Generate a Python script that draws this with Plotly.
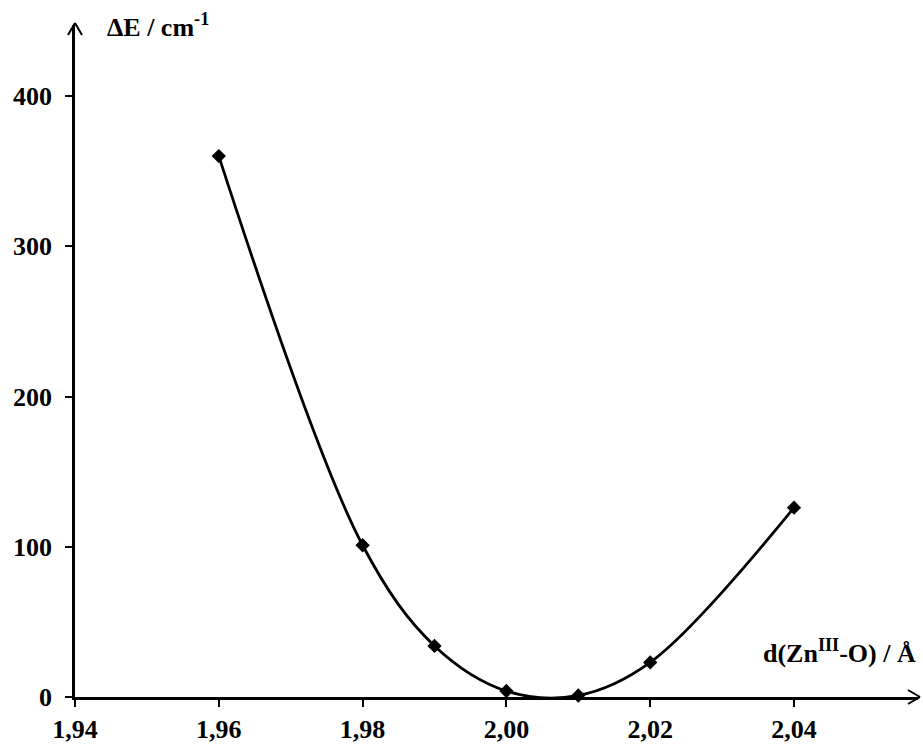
import plotly.graph_objects as go

# data
d_zn_o = [1.96, 1.98, 1.99, 2.00, 2.01, 2.02, 2.04]
delta_e = [360, 101, 34, 4, 1, 23, 126]

x_tickvals = [1.94, 1.96, 1.98, 2.00, 2.02, 2.04]
x_ticktext = ["1,94", "1,96", "1,98", "2,00", "2,02", "2,04"]
y_tickvals = [0, 100, 200, 300, 400]
y_ticktext = ["0", "100", "200", "300", "400"]

FONT = dict(family="Liberation Serif, Times New Roman, serif", size=26, color="black")

W, H = 923, 745
ML, MR, MT, MB = 75, 5, 25, 48
PW, PH = W - ML - MR, H - MT - MB

fig = go.Figure()
fig.add_trace(go.Scatter(
    x=d_zn_o, y=delta_e, mode="lines+markers",
    line=dict(color="black", width=2.8, shape="spline", smoothing=1.0),
    marker=dict(symbol="diamond", size=11, color="black"),
    showlegend=False, cliponaxis=False,
))

XMAX = 1.94 + PW / 7190.0
YMAX = PH / 1.5025

fig.update_layout(
    width=W, height=H,
    margin=dict(l=ML, r=MR, t=MT, b=MB, autoexpand=False),
    plot_bgcolor="white", paper_bgcolor="white",
    font=FONT,
    xaxis=dict(range=[1.94, XMAX], showgrid=False, zeroline=False,
               showline=True, linecolor="black", linewidth=2.5,
               ticks="outside", ticklen=7, tickwidth=2, tickcolor="black",
               tickvals=x_tickvals, ticktext=x_ticktext, automargin=False,
               tickfont=dict(FONT, weight="bold")),
    yaxis=dict(range=[0, YMAX], showgrid=False, zeroline=False,
               showline=True, linecolor="black", linewidth=2.5,
               ticks="outside", ticklen=7, tickwidth=2, tickcolor="black",
               tickvals=y_tickvals, ticktext=y_ticktext, automargin=False,
               tickfont=dict(FONT, weight="bold"), ticklabelstandoff=8),
)

# open arrowheads at the axis ends (paper coordinates from pixel offsets)
def px(dx):
    return dx / PW

def py(dy):
    return dy / PH

arrow = dict(color="black", width=2)
# y axis, top
fig.add_shape(type="line", xref="paper", yref="paper", x0=px(-7), y0=1 + py(-10), x1=0, y1=1 + py(2), line=arrow)
fig.add_shape(type="line", xref="paper", yref="paper", x0=px(7), y0=1 + py(-10), x1=0, y1=1 + py(2), line=arrow)
# x axis, right
fig.add_shape(type="line", xref="paper", yref="paper", x0=1 + px(-10), y0=py(7), x1=1 + px(2), y1=0, line=arrow)
fig.add_shape(type="line", xref="paper", yref="paper", x0=1 + px(-10), y0=py(-7), x1=1 + px(2), y1=0, line=arrow)

fig.add_annotation(xref="paper", yref="paper", x=0.035, y=1.0, xanchor="left", yanchor="middle",
                   text="<b>ΔE / cm<sup>-1</sup></b>", showarrow=False, font=FONT)
fig.add_annotation(xref="paper", yref="y", x=1.0, y=18, xanchor="right", yanchor="bottom",
                   text="<b>d(Zn<sup>III</sup>-O) / Å</b>", showarrow=False, font=FONT)

fig.write_html("out.html", config={"displayModeBar": False},
               post_script="document.body.style.margin='0';document.body.style.overflow='hidden';")
